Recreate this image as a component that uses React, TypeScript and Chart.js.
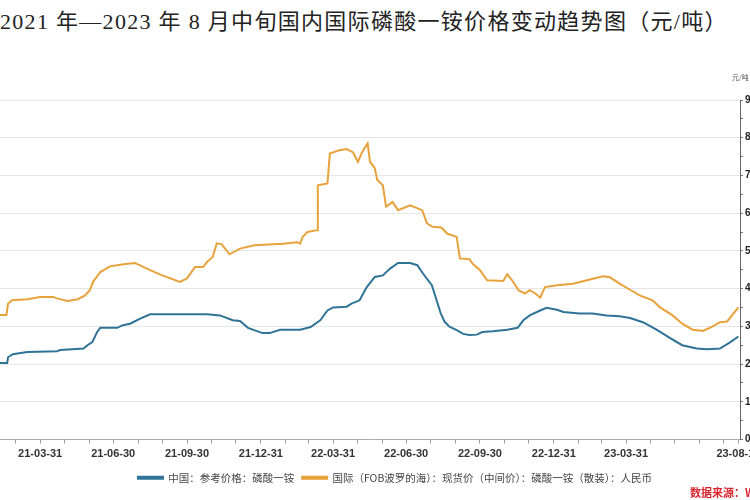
import { useEffect, useRef } from 'react'
import { Chart, registerables } from 'chart.js'

Chart.register(...registerables)

const TITLE = '2021 年—2023 年 8 月中旬国内国际磷酸一铵价格变动趋势图（元/吨）'
const LABEL_CN = '中国：参考价格：磷酸一铵'
const LABEL_INTL = '国际（FOB波罗的海）：现货价（中间价）：磷酸一铵（散装）：人民币'
const UNIT = '元/吨'
const SOURCE = '数据来源：Wind'

const X_START = '2021-02-09'
const X_END = '2023-08-20'
// dates that carry a label on the x axis
const labelTicks = ['2021-03-31', '2021-06-30', '2021-09-30', '2021-12-31', '2022-03-31', '2022-06-30', '2022-09-30', '2022-12-31', '2023-03-31', '2023-08-18']

const chinaDates = [
  '2021-02-09', '2021-02-18', '2021-02-19', '2021-02-25', '2021-03-15', '2021-04-21', '2021-04-25', '2021-05-24',
  '2021-05-29', '2021-06-04', '2021-06-10', '2021-06-14', '2021-07-05', '2021-07-12', '2021-07-21', '2021-08-02',
  '2021-08-15', '2021-10-25', '2021-11-10', '2021-11-26', '2021-12-05', '2021-12-15', '2022-01-02', '2022-01-11',
  '2022-01-24', '2022-02-18', '2022-03-03', '2022-03-15', '2022-03-24', '2022-03-31', '2022-04-17', '2022-04-23',
  '2022-05-03', '2022-05-12', '2022-05-22', '2022-06-01', '2022-06-10', '2022-06-20', '2022-07-05', '2022-07-14',
  '2022-07-21', '2022-08-01', '2022-08-07', '2022-08-12', '2022-08-17', '2022-08-23', '2022-09-01', '2022-09-09',
  '2022-09-17', '2022-09-26', '2022-10-03', '2022-10-16', '2022-11-03', '2022-11-16', '2022-11-23', '2022-12-01',
  '2022-12-14', '2022-12-22', '2023-01-04', '2023-01-12', '2023-02-01', '2023-02-17', '2023-03-07', '2023-03-23',
  '2023-04-05', '2023-04-21', '2023-05-08', '2023-05-24', '2023-06-09', '2023-06-27', '2023-07-10', '2023-07-26',
  '2023-08-08', '2023-08-18',
]
const chinaPrices = [
  2030, 2030, 2180, 2260, 2320, 2340, 2370, 2410,
  2500, 2580, 2850, 2960, 2960, 3030, 3070, 3200,
  3320, 3320, 3290, 3160, 3140, 2960, 2820, 2820,
  2910, 2910, 2980, 3160, 3420, 3500, 3520, 3600,
  3690, 4040, 4310, 4350, 4530, 4680, 4680, 4620,
  4400, 4090, 3690, 3350, 3120, 2990, 2900, 2800,
  2770, 2780, 2850, 2870, 2910, 2960, 3160, 3290,
  3420, 3490, 3440, 3380, 3340, 3340, 3290, 3270,
  3220, 3110, 2910, 2700, 2500, 2410, 2390, 2410,
  2580, 2730,
]

const intlDates = [
  '2021-02-09', '2021-02-17', '2021-02-19', '2021-02-24', '2021-03-15', '2021-03-31', '2021-04-16', '2021-04-21',
  '2021-05-04', '2021-05-17', '2021-05-26', '2021-06-01', '2021-06-05', '2021-06-14', '2021-06-26', '2021-07-15',
  '2021-07-27', '2021-08-15', '2021-08-28', '2021-09-21', '2021-09-30', '2021-10-10', '2021-10-20', '2021-10-25',
  '2021-11-01', '2021-11-06', '2021-11-12', '2021-11-22', '2021-12-05', '2021-12-23', '2022-01-27', '2022-02-14',
  '2022-02-18', '2022-02-21', '2022-02-27', '2022-03-11', '2022-03-12', '2022-03-24', '2022-03-27', '2022-04-08',
  '2022-04-17', '2022-04-25', '2022-05-01', '2022-05-06', '2022-05-13', '2022-05-16', '2022-05-22', '2022-05-25',
  '2022-06-01', '2022-06-05', '2022-06-13', '2022-06-20', '2022-07-05', '2022-07-20', '2022-07-26', '2022-08-02',
  '2022-08-13', '2022-08-20', '2022-09-01', '2022-09-05', '2022-09-17', '2022-09-21', '2022-09-30', '2022-10-09',
  '2022-10-29', '2022-11-03', '2022-11-09', '2022-11-17', '2022-11-25', '2022-12-01', '2022-12-08', '2022-12-14',
  '2022-12-20', '2023-01-04', '2023-01-24', '2023-02-14', '2023-03-02', '2023-03-11', '2023-03-23', '2023-04-05',
  '2023-04-17', '2023-05-03', '2023-05-12', '2023-05-28', '2023-06-09', '2023-06-22', '2023-07-05', '2023-07-17',
  '2023-07-26', '2023-08-04', '2023-08-10', '2023-08-18',
]
const intlPrices = [
  3300, 3300, 3600, 3690, 3720, 3780, 3780, 3740,
  3670, 3720, 3820, 3960, 4180, 4440, 4590, 4650,
  4680, 4490, 4370, 4180, 4270, 4570, 4570, 4710,
  4840, 5200, 5180, 4910, 5060, 5150, 5190, 5230,
  5190, 5370, 5500, 5550, 6740, 6790, 7580, 7670,
  7700, 7610, 7360, 7610, 7850, 7360, 7190, 6880,
  6740, 6170, 6300, 6080, 6210, 6080, 5730, 5640,
  5620, 5460, 5370, 4800, 4780, 4660, 4490, 4220,
  4200, 4380, 4220, 3960, 3870, 3960, 3870, 3760,
  4040, 4090, 4130, 4240, 4330, 4300, 4130, 3970,
  3820, 3690, 3510, 3290, 3070, 2910, 2880, 3000,
  3110, 3130, 3290, 3500,
]

const BLUE = '#2f7396'
const ORANGE = '#e8a23c'

const day = (s: string) => {
  const [y, m, d] = s.split('-').map(Number)
  return Date.UTC(y, m - 1, d) / 86400000
}
const fmt = (v: number) => new Date(v * 86400000).toISOString().slice(2, 10)

// month-end minor ticks plus the labelled ones
function xTicks() {
  const out = new Set<number>(labelTicks.map(day))
  const lo = day(X_START), hi = day(X_END)
  for (let y = 2021; y <= 2023; y++) {
    for (let m = 0; m < 12; m++) {
      const v = Date.UTC(y, m + 1, 0) / 86400000
      if (v > lo && v < hi) out.add(v)
    }
  }
  return [...out].sort((a, b) => a - b)
}

export default function App() {
  const ref = useRef<HTMLCanvasElement>(null)

  useEffect(() => {
    if (!ref.current) return
    const labelled = new Set(labelTicks.map(day))

    const chart = new Chart(ref.current, {
      type: 'line',
      data: {
        datasets: [
          {
            label: LABEL_CN,
            data: chinaDates.map((d, i) => ({ x: day(d), y: chinaPrices[i] })),
            borderColor: BLUE,
            backgroundColor: BLUE,
            borderWidth: 2,
            pointRadius: 0,
          },
          {
            label: LABEL_INTL,
            data: intlDates.map((d, i) => ({ x: day(d), y: intlPrices[i] })),
            borderColor: ORANGE,
            backgroundColor: ORANGE,
            borderWidth: 2,
            pointRadius: 0,
          },
        ],
      },
      options: {
        animation: false,
        responsive: true,
        maintainAspectRatio: false,
        layout: { padding: { top: 100, bottom: 7, left: 0, right: 0 } },
        plugins: {
          legend: {
            position: 'bottom',
            labels: {
              boxWidth: 25,
              boxHeight: 2,
              padding: 8,
              color: '#444',
              font: { family: '"Noto Sans CJK SC", "Noto Sans", sans-serif', size: 10.5 },
            },
          },
          tooltip: { enabled: false },
        },
        scales: {
          x: {
            type: 'linear',
            min: day(X_START),
            max: day(X_END),
            afterBuildTicks: (s) => { s.ticks = xTicks().map(v => ({ value: v })) },
            afterFit: (s) => { s.height = 25 },
            grid: { drawOnChartArea: false, tickLength: 4, tickColor: '#999' },
            border: { color: '#aaa' },
            ticks: {
              autoSkip: false,
              maxRotation: 0,
              padding: 4,
              color: '#333',
              font: { family: '"Liberation Sans", Arial, sans-serif', size: 11, weight: 'bold' },
              callback: (v) => labelled.has(Number(v)) ? fmt(Number(v)) : '',
            },
          },
          y: {
            position: 'right',
            min: 0,
            max: 9000,
            afterFit: (s) => { s.width = 50 },
            grid: {
              color: (c) => c.tick && c.tick.value % 1000 === 0 ? '#e6e6e6' : 'rgba(0,0,0,0)',
              tickLength: 3,
              tickColor: '#777',
            },
            border: { color: '#666' },
            ticks: {
              stepSize: 500,
              padding: 2,
              color: '#222',
              font: { family: '"Liberation Sans", Arial, sans-serif', size: 10, weight: 'bold' },
              callback: (v) => Number(v) % 1000 === 0 ? Number(v).toLocaleString('en-US') : '',
            },
          },
        },
      },
    })

    return () => chart.destroy()
  }, [])

  return (
    <div style={{ position: 'fixed', left: 0, top: 0, width: 750, height: 500, overflow: 'hidden', background: '#fff' }}>
      <div style={{
        position: 'absolute', left: 0, top: 3, whiteSpace: 'nowrap', color: '#222',
        fontFamily: '"Liberation Serif", "Noto Sans CJK SC", serif', fontSize: 22, letterSpacing: 1.3,
      }}>{TITLE}</div>
      <div style={{ position: 'absolute', left: 0, top: 0, width: 790, height: 500 }}>
        <canvas ref={ref} />
      </div>
      <div style={{
        position: 'absolute', left: 732, top: 72, fontSize: 7, color: '#555',
        fontFamily: '"Noto Sans CJK SC", sans-serif', whiteSpace: 'nowrap',
      }}>{UNIT}</div>
      <div style={{
        position: 'absolute', left: 690, top: 484, fontSize: 11, fontWeight: 'bold', color: '#d9262e',
        fontFamily: '"Noto Sans CJK SC", sans-serif', whiteSpace: 'nowrap',
      }}>{SOURCE}</div>
    </div>
  )
}
